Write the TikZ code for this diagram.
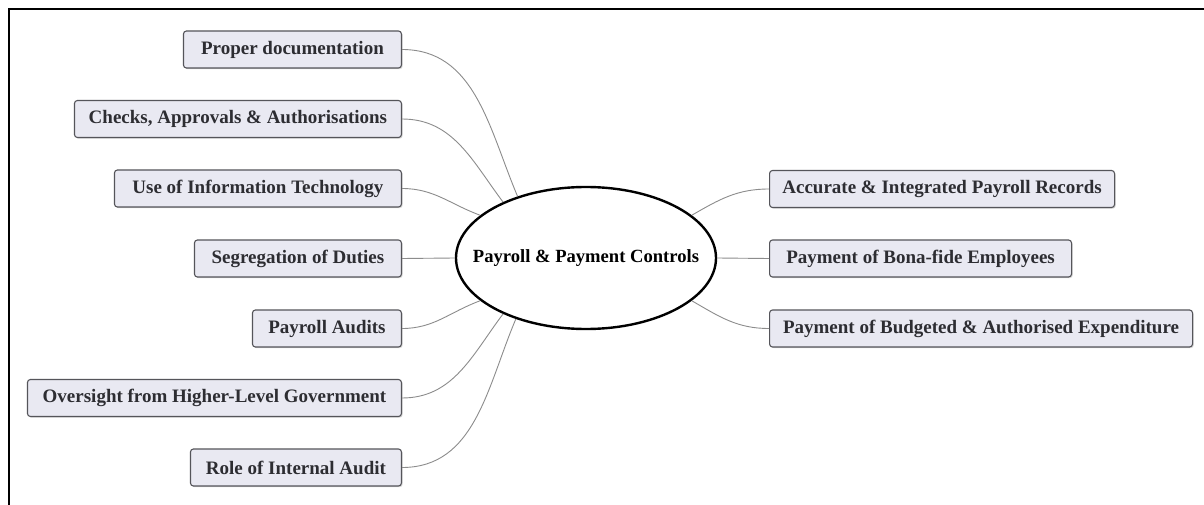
\documentclass[tikz,border=0pt]{standalone}
\usepackage{fontspec}
\setmainfont{Liberation Serif}
\usetikzlibrary{shapes.geometric,shadows}

\definecolor{boxfill}{RGB}{233,233,242}
\definecolor{boxline}{RGB}{85,85,90}
\definecolor{boxtext}{RGB}{45,45,50}
\definecolor{linkgray}{RGB}{140,140,140}

\tikzset{
  topic/.style={draw=boxline, line width=1.1pt, fill=boxfill, rounded corners=3pt,
    minimum height=37pt, inner xsep=0pt, inner ysep=0pt, text=boxtext,
    font=\fontsize{19}{22}\selectfont\bfseries,
    drop shadow={shadow xshift=1.2pt, shadow yshift=-1.2pt, opacity=0.25, fill=black!60}},
  lefttopic/.style={topic, anchor=east},
  righttopic/.style={topic, anchor=west},
  hub/.style={ellipse, draw=black, line width=2.4pt, fill=white,
    minimum width=260pt, minimum height=142pt, inner sep=0pt},
  hubtext/.style={font=\fontsize{18.6}{22}\selectfont\bfseries, text=black},
  link/.style={draw=linkgray, line width=0.9pt},
  frame/.style={draw=black, line width=2.4pt}
}

\begin{document}
\begin{tikzpicture}[x=1pt, y=-1pt]
  \useasboundingbox (0,0) rectangle (1204,505);
  \fill[white] (0,0) rectangle (1204,505);

  % outer frame, top and left edges
  \coordinate (ftr) at (1204,9);
  \coordinate (ftl) at (9,9);
  \coordinate (fbl) at (9,505);
  \draw[frame] (ftr) -- (ftl) -- (fbl);

  % central topic
  \node[hub, label={[hubtext]center:Payroll \& Payment Controls}] (e) at (586,258) {};

  % left branches
  \node[lefttopic, minimum width=218pt] (l1) at (402,49.5) {Proper documentation};
  \node[lefttopic, minimum width=327pt] (l2) at (402,119) {Checks, Approvals \& Authorisations};
  \node[lefttopic, minimum width=287pt] (l3) at (402,188.5) {Use of Information Technology};
  \node[lefttopic, minimum width=207pt] (l4) at (402,258.5) {Segregation of Duties};
  \node[lefttopic, minimum width=149pt] (l5) at (402,328.5) {Payroll Audits};
  \node[lefttopic, minimum width=374pt] (l6) at (402,398) {Oversight from Higher-Level Government};
  \node[lefttopic, minimum width=211pt] (l7) at (402,467.5) {Role of Internal Audit};

  % right branches
  \node[righttopic, minimum width=345pt] (r1) at (769,189) {Accurate \& Integrated Payroll Records};
  \node[righttopic, minimum width=302pt] (r2) at (769,258.5) {Payment of Bona-fide Employees};
  \node[righttopic, minimum width=423pt] (r3) at (769,328.5) {Payment of Budgeted \& Authorised Expenditure};

  % connectors
  \draw[link] (l1.east) to[out=0, in=113] (e.138);
  \draw[link] (l2.east) to[out=0, in=127] (e.146);
  \draw[link] (l3.east) to[out=0, in=160] (e.158);
  \draw[link] (l4.east) -- (e.west);
  \draw[link] (l5.east) to[out=0, in=200] (e.202);
  \draw[link] (l6.east) to[out=0, in=233] (e.214);
  \draw[link] (l7.east) to[out=0, in=247] (e.221.5);
  \draw[link] (r1.west) to[out=180, in=30] (e.22);
  \draw[link] (r2.west) -- (e.east);
  \draw[link] (r3.west) to[out=180, in=-30] (e.-22);
\end{tikzpicture}
\end{document}
